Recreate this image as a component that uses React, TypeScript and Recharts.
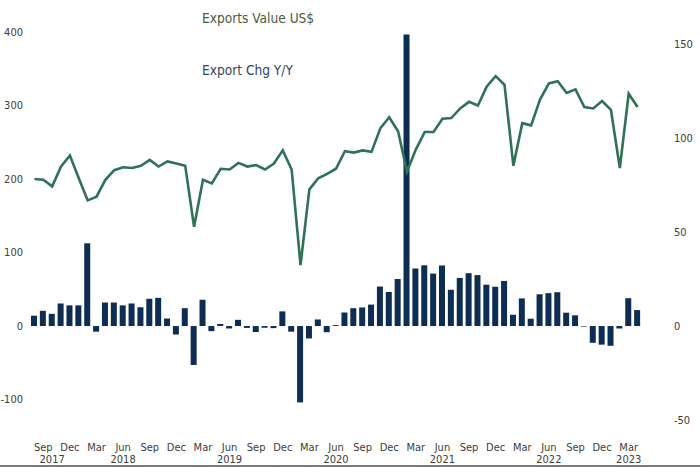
import React from 'react';
import { ComposedChart, Bar, Line, XAxis, YAxis } from 'recharts';

// monthly, Aug 2017 – Apr 2023
const months = [
  'Aug 2017', 'Sep 2017', 'Oct 2017', 'Nov 2017', 'Dec 2017',
  'Jan 2018', 'Feb 2018', 'Mar 2018', 'Apr 2018', 'May 2018', 'Jun 2018',
  'Jul 2018', 'Aug 2018', 'Sep 2018', 'Oct 2018', 'Nov 2018', 'Dec 2018',
  'Jan 2019', 'Feb 2019', 'Mar 2019', 'Apr 2019', 'May 2019', 'Jun 2019',
  'Jul 2019', 'Aug 2019', 'Sep 2019', 'Oct 2019', 'Nov 2019', 'Dec 2019',
  'Jan 2020', 'Feb 2020', 'Mar 2020', 'Apr 2020', 'May 2020', 'Jun 2020',
  'Jul 2020', 'Aug 2020', 'Sep 2020', 'Oct 2020', 'Nov 2020', 'Dec 2020',
  'Jan 2021', 'Feb 2021', 'Mar 2021', 'Apr 2021', 'May 2021', 'Jun 2021',
  'Jul 2021', 'Aug 2021', 'Sep 2021', 'Oct 2021', 'Nov 2021', 'Dec 2021',
  'Jan 2022', 'Feb 2022', 'Mar 2022', 'Apr 2022', 'May 2022', 'Jun 2022',
  'Jul 2022', 'Aug 2022', 'Sep 2022', 'Oct 2022', 'Nov 2022', 'Dec 2022',
  'Jan 2023', 'Feb 2023', 'Mar 2023', 'Apr 2023',
];

// Exports value, US$ bn (left axis)
const exportsValue = [
  200, 199, 190, 217, 232,
  201, 171, 176, 199, 212, 216, 215, 218, 226, 217, 224, 221,
  218, 135, 199, 194, 214, 213, 222, 217, 219, 213, 221, 239,
  213, 83, 186, 201, 207, 214, 238, 236, 239, 237, 269, 284,
  265, 210, 240, 264, 264, 282, 283, 296, 305, 300, 326, 340,
  328, 218, 276, 273, 308, 330, 333, 317, 322, 298, 296, 306,
  294, 215, 316, 298,
];

// Export change y/y, % (right axis)
const exportChg = [
  5.5, 8.1, 6.5, 12, 11,
  11, 44, -3, 12.5, 12.5, 11, 12, 10, 14.5, 15, 4, -4.5,
  9.5, -20.7, 14, -2.7, 1.1, -1.3, 3.3, -1, -3.2, -0.9, -1.1, 7.8,
  -3, -40.6, -6.6, 3.5, -3.3, 0.5, 7.2, 9.5, 9.9, 11.4, 21, 18.1,
  25, 155, 30.6, 32.3, 27.9, 32.2, 19.3, 25.6, 28.1, 27.1, 22, 20.9,
  24, 6, 14.7, 3.9, 16.9, 17.5, 18, 7.1, 5.7, -0.3, -8.9, -9.9,
  -10.5, -1.3, 14.8, 8.5,
];

const labelledMonths = ['Mar', 'Jun', 'Sep', 'Dec'];
const yearLabelAt = ['Oct 2017', 'Jun 2018', 'Jun 2019', 'Jun 2020', 'Jun 2021', 'Jun 2022', 'Mar 2023'];

const leftTicks = [-100, 0, 100, 200, 300, 400];
const rightTicks = [-50, 0, 50, 100, 150];

const data = months.map((month, i) => ({
  month,
  value: exportsValue[i],
  chg: exportChg[i],
}));

const FONT = "'DejaVu Sans Condensed', 'Liberation Sans', sans-serif";
const TICK_COLOUR = '#3c3c3c';
const LINE_COLOUR = '#2f7255';
const BAR_COLOUR = '#0d2d52';

function MonthTick({ x, y, payload }: any) {
  const [mon, year] = String(payload.value).split(' ');
  const showMonth = labelledMonths.includes(mon);
  const showYear = yearLabelAt.includes(payload.value);
  if (!showMonth && !showYear) return null;
  return (
    <g>
      {showMonth && (
        <text x={x} y={y + 22} textAnchor="middle" fill={TICK_COLOUR} fontSize={11} fontFamily={FONT}>
          {mon}
        </text>
      )}
      {showYear && (
        <text x={x} y={y + 34} textAnchor="middle" fill={TICK_COLOUR} fontSize={11} fontFamily={FONT}>
          {year}
        </text>
      )}
    </g>
  );
}

export default function App() {
  return (
    <div style={{ position: 'absolute', left: 0, top: 0, width: 700, height: 467, background: '#fff' }}>
      <ComposedChart
        width={700}
        height={467}
        data={data}
        margin={{ top: 32, right: 0, bottom: 0, left: 0 }}
      >
        <XAxis
          dataKey="month"
          interval={0}
          axisLine={false}
          tickLine={false}
          tickSize={0}
          tickMargin={0}
          height={38}
          tick={<MonthTick />}
        />
        <YAxis
          yAxisId="left"
          orientation="left"
          width={30}
          domain={[-140, 400]}
          ticks={leftTicks}
          axisLine={false}
          tickLine={false}
          tickSize={0}
          tickMargin={7}
          tick={{ fill: TICK_COLOUR, fontSize: 11, fontFamily: FONT }}
        />
        <YAxis
          yAxisId="right"
          orientation="right"
          width={58}
          domain={[-54.75, 156.37]}
          ticks={rightTicks}
          axisLine={false}
          tickLine={false}
          tickSize={0}
          tickMargin={32}
          tick={{ fill: TICK_COLOUR, fontSize: 11, fontFamily: FONT }}
        />
        <Bar yAxisId="right" dataKey="chg" fill={BAR_COLOUR} barSize={6} isAnimationActive={false} />
        <Line
          yAxisId="left"
          type="linear"
          dataKey="value"
          stroke={LINE_COLOUR}
          strokeWidth={2.6}
          dot={false}
          activeDot={false}
          isAnimationActive={false}
        />
      </ComposedChart>

      <div style={{ position: 'absolute', left: 202, top: 10, fontFamily: FONT, fontSize: 13.6, color: '#4c5a3e' }}>
        Exports Value US$
      </div>
      <div style={{ position: 'absolute', left: 202, top: 62, fontFamily: FONT, fontSize: 13.6, color: '#34465e' }}>
        Export Chg Y/Y
      </div>
      <div style={{ position: 'absolute', left: 0, top: 465, width: 700, height: 2, background: '#7a7a7a' }} />
    </div>
  );
}
